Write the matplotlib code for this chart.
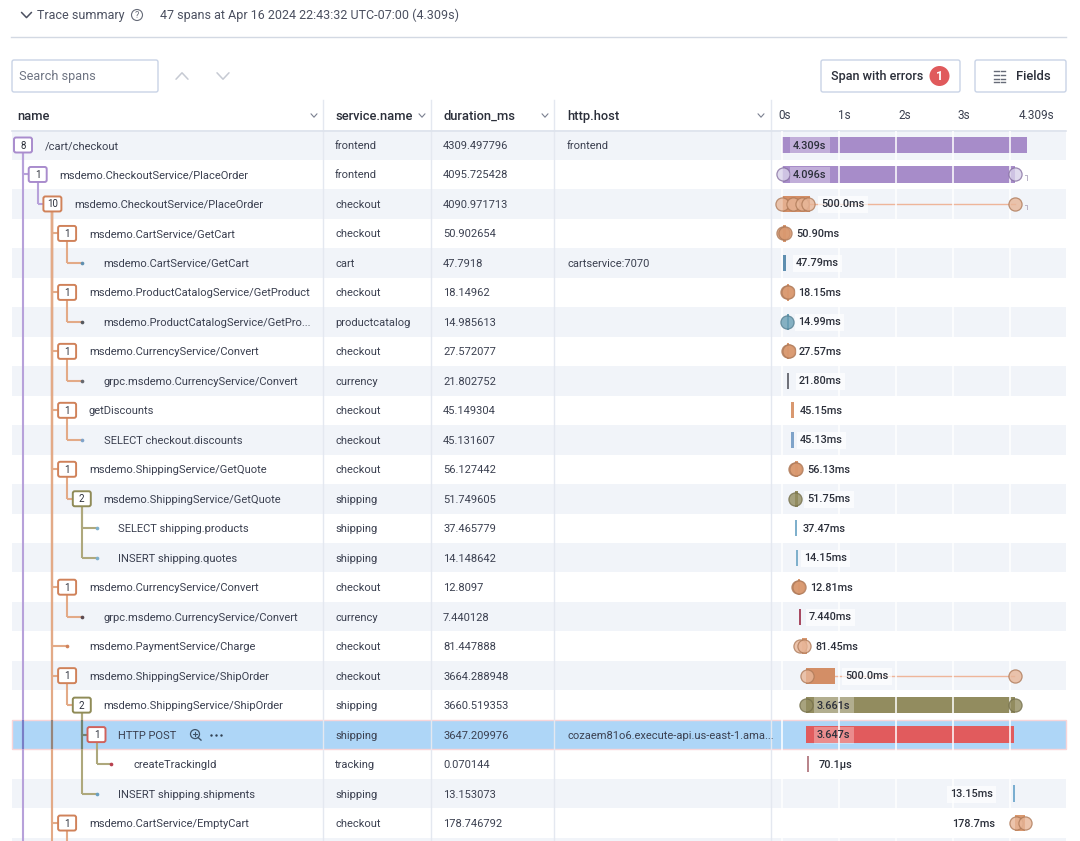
import matplotlib
matplotlib.use('Agg')
import matplotlib.pyplot as plt
from matplotlib.patches import Rectangle, FancyBboxPatch, Circle
from matplotlib.colors import to_rgb

plt.rcParams['font.family'] = ['Roboto', 'DejaVu Sans']

# table data
names = ['/cart/checkout', 'msdemo.CheckoutService/PlaceOrder', 'msdemo.CheckoutService/PlaceOrder',
         'msdemo.CartService/GetCart', 'msdemo.CartService/GetCart', 'msdemo.ProductCatalogService/GetProduct',
         'msdemo.ProductCatalogService/GetPro...', 'msdemo.CurrencyService/Convert',
         'grpc.msdemo.CurrencyService/Convert', 'getDiscounts', 'SELECT checkout.discounts',
         'msdemo.ShippingService/GetQuote', 'msdemo.ShippingService/GetQuote', 'SELECT shipping.products',
         'INSERT shipping.quotes', 'msdemo.CurrencyService/Convert', 'grpc.msdemo.CurrencyService/Convert',
         'msdemo.PaymentService/Charge', 'msdemo.ShippingService/ShipOrder', 'msdemo.ShippingService/ShipOrder',
         'HTTP POST', 'createTrackingId', 'INSERT shipping.shipments', 'msdemo.CartService/EmptyCart']
services = ['frontend', 'frontend', 'checkout', 'checkout', 'cart', 'checkout', 'productcatalog', 'checkout',
            'currency', 'checkout', 'checkout', 'checkout', 'shipping', 'shipping', 'shipping', 'checkout',
            'currency', 'checkout', 'checkout', 'shipping', 'shipping', 'tracking', 'shipping', 'checkout']
durations = ['4309.497796', '4095.725428', '4090.971713', '50.902654', '47.7918', '18.14962', '14.985613',
             '27.572077', '21.802752', '45.149304', '45.131607', '56.127442', '51.749605', '37.465779',
             '14.148642', '12.8097', '7.440128', '81.447888', '3664.288948', '3660.519353', '3647.209976',
             '0.070144', '13.153073', '178.746792']
hosts = {0: 'frontend', 4: 'cartservice:7070', 20: 'cozaem81o6.execute-api.us-east-1.ama...'}
depth = [0, 1, 2, 3, 4, 3, 4, 3, 4, 3, 4, 3, 4, 5, 5, 3, 4, 3, 3, 4, 5, 6, 5, 3]
child_count = [8, 1, 10, 1, None, 1, None, 1, None, 1, None, 1, 2, None, None, 1, None, None, 1, 2, 1, None, None, 1]

# waterfall data, seconds
bar_start = [0.0, 0.0, 0.0, 0.03, 0.03, 0.09, 0.09, 0.10, 0.10, 0.17, 0.17, 0.23, 0.23, 0.23, 0.26, 0.29, 0.30,
             0.36, 0.43, 0.43, 0.43, 0.45, 4.07, 4.10]
bar_width = [4.309, 4.096, 0.5, 0.051, 0.048, 0.018, 0.015, 0.028, 0.022, 0.045, 0.045, 0.056, 0.052, 0.037,
             0.014, 0.013, 0.007, 0.081, 0.5, 3.661, 3.647, 0.0001, 0.013, 0.179]
line_end = {2: 4.10, 18: 4.08}
events = [[], [0.02, 4.10], [0.01, 0.2, 0.36, 0.46, 4.10], [0.03, 0.06], [], [0.09, 0.11], [0.10], [0.12, 0.13],
          [], [], [], [0.23, 0.26], [0.24], [], [], [0.29, 0.31], [], [0.33, 0.39], [0.44, 4.09], [0.43, 4.10], [],
          [], [], [4.11, 4.28]]
span_labels = ['4.309s', '4.096s', '500.0ms', '50.90ms', '47.79ms', '18.15ms', '14.99ms', '27.57ms', '21.80ms',
               '45.15ms', '45.13ms', '56.13ms', '51.75ms', '37.47ms', '14.15ms', '12.81ms', '7.440ms', '81.45ms',
               '500.0ms', '3.661s', '3.647s', '70.1µs', '13.15ms', '178.7ms']
tick_values = [0, 1, 2, 3, 4]
tick_labels = ['0s', '1s', '2s', '3s', '4.309s']

# layout, pixels
label_px = [793, 793, 821, 796, 796, 798, 798, 799, 799, 800, 800, 807, 807, 803, 804, 810, 809, 815, 845,
            817, 817, 819, 950, 952]
tick_px = [778, 838, 898, 958, 1019]
W, H = 1080, 841
ROW0, ROWH = 145, 29.48
X0, PX_S = 781.5, 57
LEFT, RIGHT = 12, 1066
SEL = 20

TEXT = '#3b4050'
HEAD = '#2b2f3a'
SHADE = '#f1f4f9'
GRID = '#e4e8f0'

svc_line = {'frontend': '#b7a1da', 'checkout': '#e3aa87', 'shipping': '#aea87c', 'cart': '#6f9bbd',
            'productcatalog': '#6f9bb0', 'currency': '#777a80', 'tracking': '#b25a6a'}
svc_box = {'frontend': '#a98ccd', 'checkout': '#d0825a', 'shipping': '#8f8b57'}
row_bar = {'frontend': '#a78cc9', 'checkout': '#d9986f', 'shipping': '#928c5f', 'cart': '#5f8fb0',
           'productcatalog': '#6a9fb5', 'currency': '#70727a', 'tracking': '#b9858c'}
bar_override = {9: '#d9986f', 10: '#7fa3c9', 13: '#7fb0cc', 14: '#7fb0cc', 16: '#a84a62', 20: '#e15b5d', 22: '#7aaed0'}
dot_override = {4: '#5f8fb0', 6: '#55585f', 8: '#66686f', 10: '#7fa3c9', 13: '#7fb0cc', 14: '#7fb0cc', 16: '#5b4a50',
                17: '#d0825a', 21: '#b8404f', 22: '#6a9fc0'}


def row_y(i):
    return ROW0 + i * ROWH


def box_x(d):
    return 23 + 14.7 * d


def multiply(c, base):
    return tuple(a * b for a, b in zip(to_rgb(c), to_rgb(base)))


def chevron(ax, x, y, w, h, color, up=False, lw=1.1):
    s = -1 if up else 1
    ax.plot([x - w, x, x + w], [y - s * h, y + s * h, y - s * h], color=color, lw=lw, solid_capstyle='round', zorder=5)


def rbox(ax, x0, y0, x1, y1, edge, face='white', lw=1.0, r=2.0, z=3):
    ax.add_patch(FancyBboxPatch((x0, y0), x1 - x0, y1 - y0, boxstyle='round,pad=0,rounding_size=%s' % r,
                                fc=face, ec=edge, lw=lw, zorder=z))


fig = plt.figure(figsize=(W / 100, H / 100), dpi=100)
ax = fig.add_axes([0, 0, 1, 1])
ax.set_xlim(0, W)
ax.set_ylim(H, 0)
ax.axis('off')

# top strip
chevron(ax, 26.5, 15, 5, 2.6, '#4b5060')
ax.text(37, 15.5, 'Trace summary', fontsize=9, color='#4b5060', va='center')
ax.add_patch(Circle((137, 15), 5.5, fc='none', ec='#666b78', lw=0.8))
ax.text(137, 15, '?', fontsize=6.5, color='#666b78', va='center', ha='center')
ax.text(160, 15.5, '47 spans at Apr 16 2024 22:43:32 UTC-07:00 (4.309s)', fontsize=9, color='#4b5060', va='center')
ax.plot([11, 1066], [37, 37], color='#d3d9e3', lw=1.0)

# toolbar
rbox(ax, 12, 60, 158, 92, '#c9d3e6')
ax.text(19, 76.5, 'Search spans', fontsize=9.2, color='#6e7482', va='center')
chevron(ax, 182, 76, 6, 3.2, '#c6cad3', up=True)
chevron(ax, 223, 76, 6, 3.2, '#c6cad3')
rbox(ax, 821, 60, 960, 92, '#c9d3e6')
ax.text(831, 76.5, 'Span with errors', fontsize=9.1, color=HEAD, va='center', fontweight='medium')
ax.add_patch(Circle((939.5, 76), 10, fc='#e05a5c', ec='none', zorder=4))
ax.text(939.5, 76.5, '1', fontsize=9, color='white', va='center', ha='center', fontweight='bold', zorder=5)
rbox(ax, 975, 60, 1066, 92, '#c9d3e6')
for yy in [71, 75, 79, 82]:
    ax.plot([994, 998.5], [yy, yy], color='#666b78', lw=1, zorder=5)
    ax.plot([1000.5, 1005], [yy, yy], color='#666b78', lw=1, zorder=5)
ax.text(1016, 76.5, 'Fields', fontsize=9.4, color=HEAD, va='center', fontweight='medium')

# table header
ax.plot([LEFT, RIGHT], [130.5, 130.5], color='#dde2ec', lw=1.2, zorder=2)
for label, x, cx in [('name', 17, 314), ('service.name', 335, 422), ('duration_ms', 443, 545), ('http.host', 567, 761)]:
    ax.text(x, 116, label, fontsize=9.3, color=HEAD, va='center', fontweight='medium')
    chevron(ax, cx, 115.5, 3, 1.7, '#7b8090', lw=0.8)
for i, x in enumerate(tick_px):
    ax.text(x, 115.5, tick_labels[i], fontsize=8.5, color=TEXT, va='center')

# rows
for i in range(25):
    if i == SEL:
        ax.add_patch(Rectangle((LEFT, row_y(i) - ROWH / 2), RIGHT - LEFT, ROWH, fc='#aed6f7', ec='#f8d5d8', lw=1.0, zorder=1))
    elif i % 2 == 0:
        ax.add_patch(Rectangle((LEFT, row_y(i) - ROWH / 2), RIGHT - LEFT, ROWH, fc=SHADE, ec='none', zorder=0))

for x in [323, 431, 554, 771]:
    ax.plot([x, x], [100, H], color=GRID, lw=1.0, zorder=1.5)

# tree connectors
for i in range(1, len(names)):
    p = max(j for j in range(i) if depth[j] == depth[i] - 1)
    c = svc_line[services[p]]
    px = box_x(depth[p])
    ax.plot([px, px], [row_y(p), row_y(i)], color=c, lw=1.5, zorder=2, solid_capstyle='butt')
    ax.plot([px, box_x(depth[i])], [row_y(i), row_y(i)], color=c, lw=1.5, zorder=2, solid_capstyle='butt')
for i in [0, 2, 23]:
    px = box_x(depth[i])
    ax.plot([px, px], [row_y(i), H], color=svc_line[services[i]], lw=1.5, zorder=2, solid_capstyle='butt')

# lines look darker where they cross the selected row
for px, svc in [(box_x(0), 'frontend'), (box_x(2), 'checkout'), (box_x(4), 'shipping')]:
    ax.plot([px, px], [row_y(SEL) - ROWH / 2, row_y(SEL) + ROWH / 2], color=multiply(svc_line[svc], '#a8c8e8'),
            lw=1.5, zorder=2.1, solid_capstyle='butt')
ax.plot([box_x(4), box_x(5)], [row_y(SEL), row_y(SEL)], color=multiply(svc_line['shipping'], '#a8c8e8'), lw=1.5, zorder=2.1)

# cells
for i, name in enumerate(names):
    y = row_y(i)
    bx = box_x(depth[i])
    if child_count[i] is not None:
        edge = '#d0625c' if i == SEL else svc_box[services[i]]
        rbox(ax, bx - 9, y - 7.5, bx + 9, y + 7.5, edge, lw=1.4, z=3)
        ax.text(bx, y + 0.5, str(child_count[i]), fontsize=7, color=HEAD, ha='center', va='center', zorder=4)
    else:
        ax.scatter([bx], [y], s=7, color=dot_override[i], zorder=4, linewidths=0)
    ax.text(44.6 + 14.75 * depth[i], y + 1, name, fontsize=8, color=TEXT, va='center', zorder=4)
    ax.text(335, y + 1, services[i], fontsize=8, color=TEXT, va='center', zorder=4)
    ax.text(443, y + 1, durations[i], fontsize=8, color=TEXT, va='center', zorder=4)
    if i in hosts:
        ax.text(567, y + 1, hosts[i], fontsize=8, color=TEXT, va='center', zorder=4)

# icons on selected row
yy = row_y(SEL)
ax.add_patch(Circle((195, yy - 0.5), 4.5, fc='none', ec='#3f5368', lw=0.9, zorder=5))
ax.plot([198.2, 201], [yy + 3, yy + 5.5], color='#3f5368', lw=1, zorder=5)
ax.plot([193, 197], [yy - 0.5, yy - 0.5], color='#3f5368', lw=0.8, zorder=5)
ax.plot([195, 195], [yy - 2.5, yy + 1.5], color='#3f5368', lw=0.8, zorder=5)
ax.scatter([211, 216, 221], [yy, yy, yy], s=3, color='#2f3f50', zorder=5, linewidths=0)

# waterfall axes in seconds / row index
wf = fig.add_axes([771 / W, 0, (RIGHT - 771) / W, (H - 131) / H])
wf.set_xlim((771 - X0) / PX_S, (RIGHT - X0) / PX_S)
wf.set_ylim((H - ROW0) / ROWH, (131 - ROW0) / ROWH)
wf.axis('off')
wf.set_zorder(2)
wf.vlines(tick_values, wf.get_ylim()[1], wf.get_ylim()[0], color='white', lw=1.1, zorder=4)

for i in range(len(names)):
    col = bar_override.get(i, row_bar[services[i]])
    darker = tuple(c * 0.8 for c in to_rgb(col))
    if i in [2, 18]:
        col = '#d38e66'
    wf.barh(i, max(bar_width[i], 0.035), left=bar_start[i], height=0.55, color=col, edgecolor='none', zorder=3)
    if i in line_end:
        wf.plot([bar_start[i] + bar_width[i], line_end[i]], [i, i], color='#eeb59a', lw=1.0, zorder=2.5)
    if events[i]:
        face = {1: '#d9d2ea'}.get(i, col)
        if i == 2 or i == 18 or i == 23 or i == 17:
            face = '#e8b698'
        wf.scatter(events[i], [i] * len(events[i]), s=90, facecolor=face, edgecolor=darker, linewidths=0.9,
                   alpha=0.8, zorder=5)
    inside = bar_width[i] > 1
    wf.text(label_px[i], row_y(i) + 0.5, span_labels[i], transform=ax.transData, fontsize=7.8, color=HEAD, va='center',
            fontweight='medium', zorder=6, clip_on=False,
            bbox=dict(fc='white', ec='none', alpha=0.3 if inside else 0.7, pad=2.5))

# little end marks after the long spans
for i in [1, 2]:
    wf.plot([4.27, 4.30, 4.30], [i + 0.03, i + 0.03, i + 0.18], color='#b9b2c6', lw=0.7, zorder=3)

fig.savefig('out.png', dpi=100, facecolor='white')
